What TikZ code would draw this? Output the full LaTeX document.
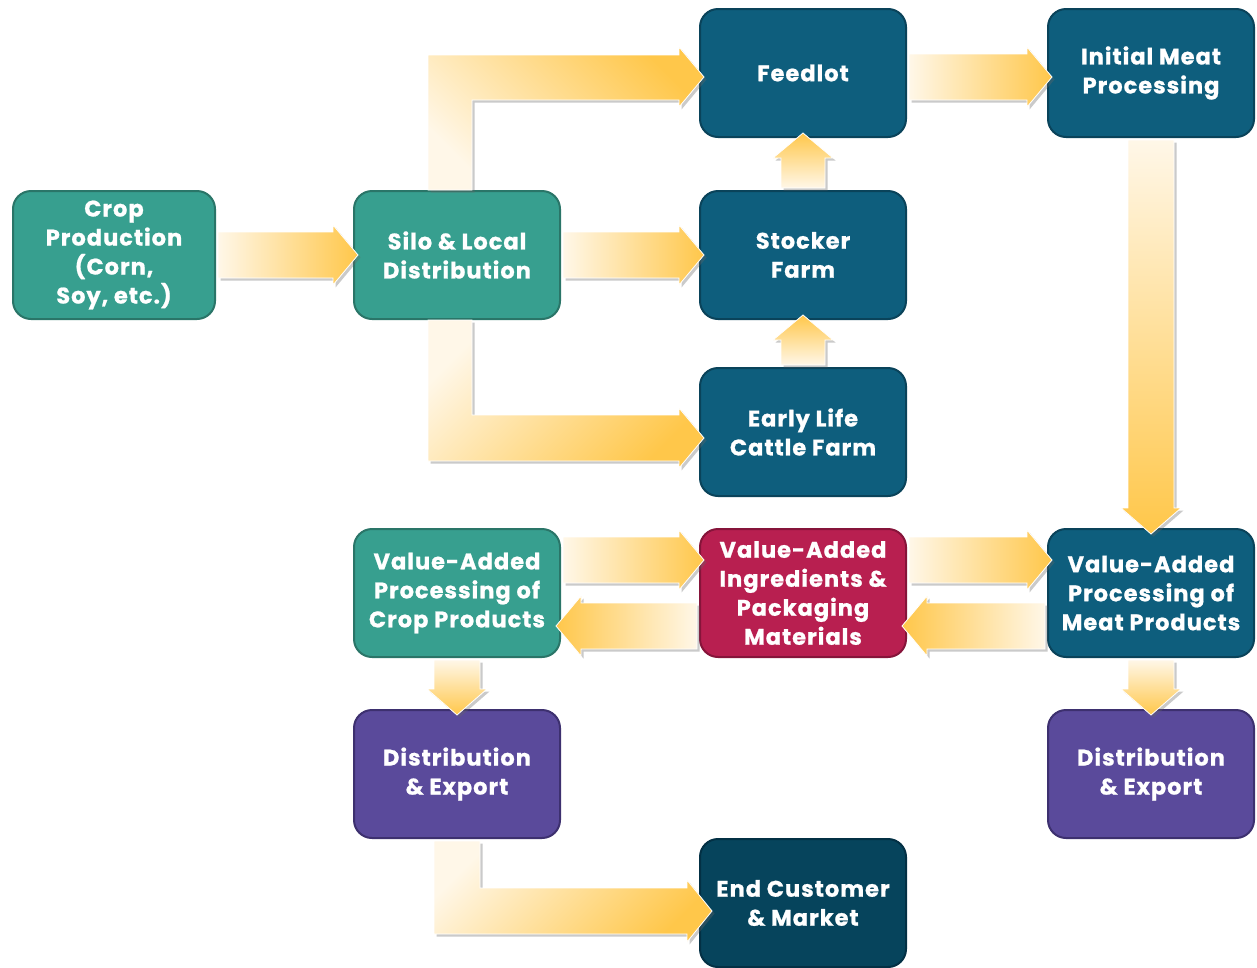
\documentclass[tikz,border=0pt]{standalone}
\usepackage{fontspec}
\setmainfont{Poppins}[BoldFeatures={FakeBold=0.9,LetterSpace=4.5}]
\usetikzlibrary{calc,shadows}
\definecolor{teal1}{HTML}{379F8F}
\definecolor{teal1b}{HTML}{2A7568}
\definecolor{blue1}{HTML}{0E5E7D}
\definecolor{blue1b}{HTML}{0A435A}
\definecolor{blue2}{HTML}{06445C}
\definecolor{blue2b}{HTML}{033044}
\definecolor{crim}{HTML}{B81F50}
\definecolor{crimb}{HTML}{86143A}
\definecolor{purp}{HTML}{5A4A9B}
\definecolor{purpb}{HTML}{3D306F}
\definecolor{lt}{HTML}{FFF7E8}
\definecolor{gd}{HTML}{FFC74A}
\tikzset{
  box/.style={draw, line width=2pt, rounded corners=18pt, minimum width=206pt, minimum height=128pt,
    inner sep=0pt, align=center, text=white, font=\fontsize{22.5}{29}\selectfont\bfseries},
  tealbox/.style={box, fill=teal1, draw=teal1b},
  bluebox/.style={box, fill=blue1, draw=blue1b},
  endbox/.style={box, fill=blue2, draw=blue2b},
  crimbox/.style={box, fill=crim, draw=crimb},
  purpbox/.style={box, fill=purp, draw=purpb},
  fat/.style={draw=white, line width=0.8pt, line join=miter,
    drop shadow={shadow xshift=2.5pt, shadow yshift=-2.5pt, opacity=0.35, fill=black!60}},
  toR/.style={fat, left color=lt, right color=gd},
  toL/.style={fat, left color=gd, right color=lt},
  toU/.style={fat, bottom color=lt, top color=gd},
  toD/.style={fat, top color=lt, bottom color=gd},
}
% right arrow: #1 offset of axis, #2 source, #3 target
\newcommand\rarr[3][0pt]{\path[toR] let \p1=(#2.east), \p2=(#3.west) in
  (\x1+2pt,\y2+#1+23pt) -- (\x2-20pt,\y2+#1+23pt) -- (\x2-20pt,\y2+#1+30pt) -- (\x2+5pt,\y2+#1)
  -- (\x2-20pt,\y2+#1-30pt) -- (\x2-20pt,\y2+#1-23pt) -- (\x1+2pt,\y2+#1-23pt) -- cycle;}
\newcommand\larr[3][0pt]{\path[toL] let \p1=(#2.west), \p2=(#3.east) in
  (\x1-2pt,\y2+#1+23pt) -- (\x2+20pt,\y2+#1+23pt) -- (\x2+20pt,\y2+#1+30pt) -- (\x2-5pt,\y2+#1)
  -- (\x2+20pt,\y2+#1-30pt) -- (\x2+20pt,\y2+#1-23pt) -- (\x1-2pt,\y2+#1-23pt) -- cycle;}
\newcommand\uarr[2]{\path[toU] let \p1=(#1.north), \p2=(#2.south) in
  (\x2-22pt,\y1+2pt) -- (\x2-22pt,\y2-20pt) -- (\x2-30pt,\y2-20pt) -- (\x2,\y2+5pt)
  -- (\x2+30pt,\y2-20pt) -- (\x2+22pt,\y2-20pt) -- (\x2+22pt,\y1+2pt) -- cycle;}
\newcommand\darr[2]{\path[toD] let \p1=(#1.south), \p2=(#2.north) in
  (\x2-23pt,\y1-2pt) -- (\x2-23pt,\y2+20pt) -- (\x2-30pt,\y2+20pt) -- (\x2,\y2-6pt)
  -- (\x2+30pt,\y2+20pt) -- (\x2+23pt,\y2+20pt) -- (\x2+23pt,\y1-2pt) -- cycle;}
\begin{document}
\begin{tikzpicture}[x=1pt,y=1pt]
\useasboundingbox (0,0) rectangle (1257,-967);
\node[tealbox, minimum width=202pt] (crop) at (114,-255) {Crop\\Production\\(Corn,\\Soy, etc.)};
\node[tealbox] (silo) at (457,-255) {Silo \& Local\\Distribution};
\node[bluebox] (feed) at (803,-73) {Feedlot};
\node[bluebox] (init) at (1151,-73) {Initial Meat\\Processing};
\node[bluebox] (stock) at (803,-255) {Stocker\\Farm};
\node[bluebox] (early) at (803,-432) {Early Life\\Cattle Farm};
\node[tealbox] (vacrop) at (457,-593) {Value-Added\\Processing of\\Crop Products};
\node[crimbox] (vaing) at (803,-593) {Value-Added\\Ingredients \&\\Packaging\\Materials};
\node[bluebox] (vameat) at (1151,-593) {Value-Added\\Processing of\\Meat Products};
\node[purpbox] (distl) at (457,-774) {Distribution\\\& Export};
\node[purpbox] (distr) at (1151,-774) {Distribution\\\& Export};
\node[endbox] (endc) at (803,-903) {End Customer\\\& Market};
% straight arrows
\rarr{crop}{silo}
\rarr{silo}{stock}
\rarr[-4pt]{feed}{init}
\rarr[33pt]{vacrop}{vaing}
\larr[-33pt]{vaing}{vacrop}
\rarr[33pt]{vaing}{vameat}
\larr[-33pt]{vameat}{vaing}
\uarr{stock}{feed}
\uarr{early}{stock}
\darr{init}{vameat}
\darr{vacrop}{distl}
\darr{vameat}{distr}
% L arrows
\path[fat, top color=gd, bottom color=lt, shading angle=-45] let \p1=(silo.north), \p2=(feed.west) in
  (\x1-29pt,\y1) -- (\x1-29pt,\y2+18pt) -- (\x2-20pt,\y2+18pt) -- (\x2-20pt,\y2+26pt) -- (\x2+5pt,\y2-4pt)
  -- (\x2-20pt,\y2-34pt) -- (\x2-20pt,\y2-27pt) -- (\x1+15pt,\y2-27pt) -- (\x1+15pt,\y1) -- cycle;
\path[fat, top color=gd, bottom color=lt, shading angle=-135] let \p1=(silo.south), \p2=(early.west) in
  (\x1-29pt,\y1) -- (\x1-29pt,\y2-29pt) -- (\x2-20pt,\y2-29pt) -- (\x2-20pt,\y2-36pt) -- (\x2+5pt,\y2-6pt)
  -- (\x2-20pt,\y2+24pt) -- (\x2-20pt,\y2+17pt) -- (\x1+15pt,\y2+17pt) -- (\x1+15pt,\y1) -- cycle;
\path[fat, top color=gd, bottom color=lt, shading angle=-135] let \p1=(distl.south), \p2=(endc.west) in
  (\x1-23pt,\y1-2pt) -- (\x1-23pt,\y2-31pt) -- (\x2-12pt,\y2-31pt) -- (\x2-12pt,\y2-39pt) -- (\x2+13pt,\y2-8pt)
  -- (\x2-12pt,\y2+23pt) -- (\x2-12pt,\y2+15pt) -- (\x1+23pt,\y2+15pt) -- (\x1+23pt,\y1-2pt) -- cycle;
\end{tikzpicture}
\end{document}
